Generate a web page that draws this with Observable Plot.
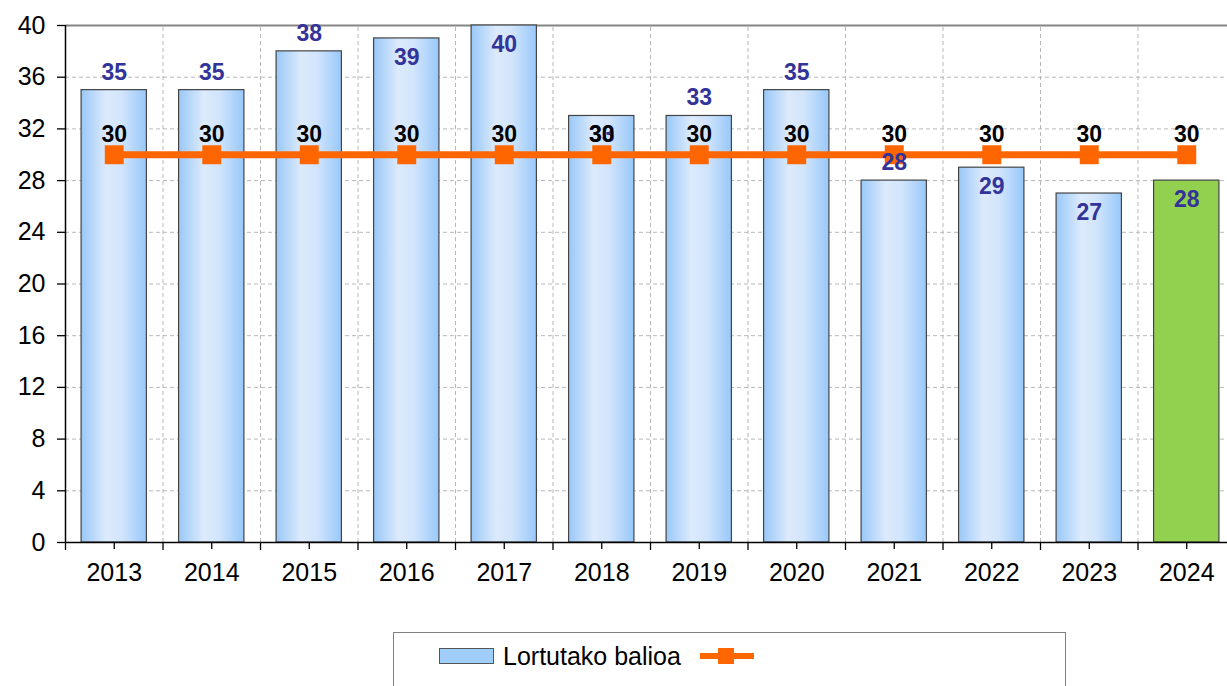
<!DOCTYPE html>
<html>
<head>
<meta charset="utf-8">
<script src="https://cdn.jsdelivr.net/npm/d3@7"></script>
<script src="https://cdn.jsdelivr.net/npm/@observablehq/plot@0.6"></script>
<style>
  html, body { margin: 0; padding: 0; background: #fff; overflow: hidden; }
  body { font-family: "Liberation Sans", Arial, sans-serif; width: 1227px; height: 686px; position: relative; }
  #chart svg { display: block; }
  #legend { position: absolute; left: 393px; top: 632px; width: 673px; height: 80px; border: 1px solid #808080; box-sizing: border-box; background: #fff; }
  #legend .sw { position: absolute; left: 45px; top: 15px; width: 55px; height: 16px; box-sizing: border-box; border: 1px solid #555; background: #9fcdfc; }
  #legend .lbl { position: absolute; left: 109px; top: 9px; font-size: 25px; color: #000; white-space: nowrap; line-height: 28px; }
  #legend svg { position: absolute; left: 305px; top: 12px; }
</style>
</head>
<body>
<div id="chart"></div>
<div id="legend"></div>
<script>
// ---- data ----
const years = ["2013", "2014", "2015", "2016", "2017", "2018", "2019", "2020", "2021", "2022", "2023", "2024"];
const values = [35, 35, 38, 39, 40, 33, 33, 35, 28, 29, 27, 28];
const targets = [30, 30, 30, 30, 30, 30, 30, 30, 30, 30, 30, 30];
const labelInside = [false, false, false, true, true, true, false, false, false, true, true, true];
const yTicks = [0, 4, 8, 12, 16, 20, 24, 28, 32, 36, 40];
const highlightYear = "2024";
const seriesName = "Lortutako balioa";

const data = years.map((year, i) => ({year, value: values[i], target: targets[i], inside: labelInside[i]}));

const W = 1227, H = 612;
const xRange = [65, 1235];
const step = (xRange[1] - xRange[0]) / years.length;
const font = '"Liberation Sans", Arial, sans-serif';

const plot = Plot.plot({
  width: W,
  height: H,
  marginTop: 25,
  marginBottom: 70,
  marginLeft: 65,
  marginRight: 0,
  style: {fontFamily: font, background: "white", color: "#000", overflow: "visible"},
  x: {domain: years, range: xRange, paddingInner: 0.33, paddingOuter: 0.165, round: false, label: null},
  y: {domain: [0, 40], label: null},
  marks: [
    // horizontal dashed grid
    Plot.ruleY(yTicks.filter(t => t > 0 && t < 40), {stroke: "#b8b8b8", strokeWidth: 1, strokeDasharray: "4,3"}),
    // vertical dashed grid at band boundaries
    Plot.ruleX(years.slice(1), {x: d => d, dx: -step / 2, y1: 0, y2: 40, stroke: "#b8b8b8", strokeWidth: 1, strokeDasharray: "4,3"}),
    // top border line
    Plot.ruleY([40], {stroke: "#858585", strokeWidth: 2}),
    // bars
    Plot.barY(data.filter(d => d.year !== highlightYear), {x: "year", y: "value", fill: "url(#barGrad)", stroke: "#444", strokeWidth: 1.2}),
    Plot.barY(data.filter(d => d.year === highlightYear), {x: "year", y: "value", fill: "#92d050", stroke: "#444", strokeWidth: 1.2}),
    // axes lines
    Plot.ruleY([0], {stroke: "#000", strokeWidth: 1.5}),
    Plot.ruleX([years[0]], {x: d => d, dx: -step / 2, y1: 0, y2: 40, stroke: "#000", strokeWidth: 1.5}),
    // boundary tick marks on x axis
    Plot.ruleX(years, {x: d => d, dx: -step / 2, y1: 0, y2: 0, insetBottom: -8, stroke: "#000", strokeWidth: 1.3}),
    Plot.axisX({tickSize: 7, tickPadding: 14, fontSize: 25, stroke: "#000", strokeWidth: 1.3}),
    Plot.axisY(yTicks, {tickSize: 8, tickPadding: 12, fontSize: 25, stroke: "#000", strokeWidth: 1.3}),
    // target line
    Plot.line(data, {x: "year", y: "target", stroke: "#ff6600", strokeWidth: 7}),
    Plot.dot(data, {x: "year", y: "target", symbol: "square", r: 10.7, fill: "#ff6600", stroke: null}),
    // bar value labels
    Plot.text(data.filter(d => !d.inside), {x: "year", y: "value", text: d => String(d.value), dy: -18, fontSize: 23, fontWeight: "bold", fill: "#333399"}),
    Plot.text(data.filter(d => d.inside), {x: "year", y: "value", text: d => String(d.value), dy: 19, fontSize: 23, fontWeight: "bold", fill: "#333399"}),
    // target labels
    Plot.text(data, {x: "year", y: "target", text: d => String(d.target), dy: -20, fontSize: 23, fontWeight: "bold", fill: "#000"})
  ]
});

// gradient definition for bars
const svg = d3.select(plot);
const defs = svg.insert("defs", ":first-child");
const grad = defs.append("linearGradient").attr("id", "barGrad").attr("x1", 0).attr("x2", 1).attr("y1", 0).attr("y2", 0);
grad.append("stop").attr("offset", "0%").attr("stop-color", "#99c8f8");
grad.append("stop").attr("offset", "38%").attr("stop-color", "#dceafc");
grad.append("stop").attr("offset", "62%").attr("stop-color", "#d2e5fc");
grad.append("stop").attr("offset", "100%").attr("stop-color", "#98c8fa");
svg.selectAll("text").style("font-family", font);
document.getElementById("chart").appendChild(plot);

// legend
const legend = document.getElementById("legend");
const sw = document.createElement("div"); sw.className = "sw"; legend.appendChild(sw);
const lbl = document.createElement("div"); lbl.className = "lbl"; lbl.textContent = seriesName; legend.appendChild(lbl);
const ls = d3.create("svg").attr("width", 60).attr("height", 22);
ls.append("line").attr("x1", 1).attr("x2", 55).attr("y1", 11).attr("y2", 11).attr("stroke", "#ff6600").attr("stroke-width", 6);
ls.append("rect").attr("x", 19).attr("y", 3).attr("width", 16).attr("height", 16).attr("fill", "#ff6600");
legend.appendChild(ls.node());
</script>
</body>
</html>
